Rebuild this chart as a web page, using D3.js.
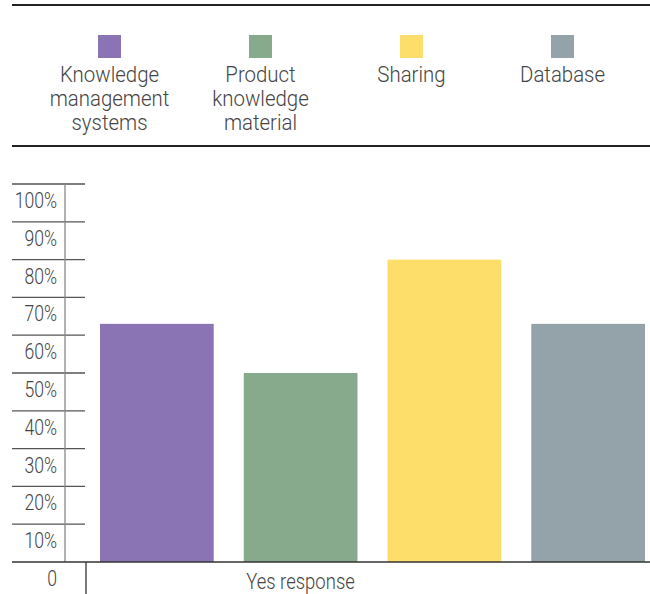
<!DOCTYPE html>
<html>
<head>
<meta charset="utf-8">
<script src="https://cdn.jsdelivr.net/npm/d3@7"></script>
<style>
  html, body { margin: 0; padding: 0; background: #fff; }
  svg { display: block; font-family: Roboto, "Noto Sans", sans-serif; font-weight: 300; }
</style>
</head>
<body>
<svg id="chart" width="650" height="594"></svg>
<script>
// Survey data: share of "Yes" responses per knowledge source
const categories = ["Knowledge management systems", "Product knowledge material", "Sharing", "Database"];
const legendLines = [["Knowledge", "management", "systems"], ["Product", "knowledge", "material"], ["Sharing"], ["Database"]];
const values = [63, 50, 80, 63];
const colors = ["#8A74B3", "#87A98C", "#FEDE6A", "#94A2A9"];
const tickValues = [0, 10, 20, 30, 40, 50, 60, 70, 80, 90, 100];
const tickLabels = ["0", "10%", "20%", "30%", "40%", "50%", "60%", "70%", "80%", "90%", "100%"];
const xLabel = "Yes response";

const svg = d3.select("#chart");
const textColor = "#444";

// Rules framing the legend
svg.append("line").attr("x1", 12).attr("x2", 650).attr("y1", 5).attr("y2", 5)
  .attr("stroke", "#222").attr("stroke-width", 2);
svg.append("line").attr("x1", 12).attr("x2", 650).attr("y1", 146).attr("y2", 146)
  .attr("stroke", "#222").attr("stroke-width", 2);

// Legend (slightly narrowed type)
const legendX = d3.scalePoint().domain(categories).range([109.5, 562.5]);
const lg = svg.append("g").selectAll("g").data(categories).join("g")
  .attr("transform", d => `translate(${legendX(d)},0)`);
lg.append("rect").attr("x", -11.5).attr("y", 35).attr("width", 23).attr("height", 23)
  .attr("fill", (d, i) => colors[i]);
lg.append("g").attr("transform", "scale(0.95,1)")
  .append("text").attr("text-anchor", "middle").attr("fill", textColor).style("font-size", "21.5px")
  .selectAll("tspan").data((d, i) => legendLines[i]).join("tspan")
  .attr("x", 0).attr("y", (d, j) => 82.5 + j * 24).text(d => d);

// Scales
const y = d3.scaleLinear().domain([0, 100]).range([562, 184]);
const x = d3.scaleBand().domain(categories).range([100, 645]).paddingInner(0.209).paddingOuter(0);

// Y axis: short rules and condensed labels sitting in the cell below each rule
const ticks = svg.append("g");
ticks.selectAll("line").data(tickValues.filter(v => v > 0)).join("line")
  .attr("x1", 12).attr("x2", 85).attr("y1", d => y(d)).attr("y2", d => y(d))
  .attr("stroke", "#555").attr("stroke-width", 1.3);
ticks.selectAll("text").data(tickValues).join("text")
  .attr("transform", d => `translate(57,${y(d) + 24}) scale(0.82,1)`)
  .attr("text-anchor", "end").attr("fill", textColor).style("font-size", "21.5px")
  .text((d, i) => tickLabels[i]);
svg.append("line").attr("x1", 65).attr("x2", 65).attr("y1", y(100)).attr("y2", y(0))
  .attr("stroke", "#888").attr("stroke-width", 1.3);

// Bars
svg.append("g").selectAll("rect").data(categories).join("rect")
  .attr("x", d => x(d)).attr("width", x.bandwidth())
  .attr("y", (d, i) => y(values[i])).attr("height", (d, i) => y(0) - y(values[i]))
  .attr("fill", (d, i) => colors[i]);

// Baseline and category divider
svg.append("line").attr("x1", 12).attr("x2", 650).attr("y1", y(0)).attr("y2", y(0))
  .attr("stroke", "#333").attr("stroke-width", 1.3);
svg.append("line").attr("x1", 86).attr("x2", 86).attr("y1", y(0)).attr("y2", 594)
  .attr("stroke", "#333").attr("stroke-width", 1.3);

svg.append("text").attr("transform", "translate(300.5,589) scale(0.86,1)").attr("text-anchor", "middle")
  .attr("fill", textColor).style("font-size", "21.5px").text(xLabel);
</script>
</body>
</html>
